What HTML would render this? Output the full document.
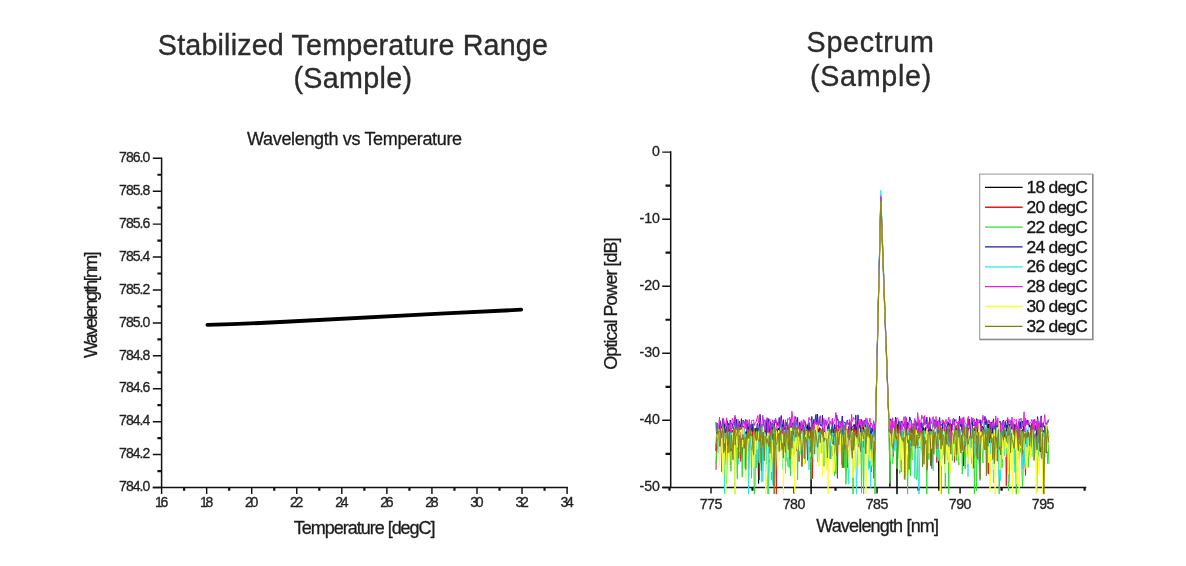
<!DOCTYPE html>
<html lang="en"><head><meta charset="utf-8"><title>Stabilized Temperature Range / Spectrum (Sample)</title>
<style>html,body{margin:0;padding:0;background:#fff}body{width:1186px;height:566px;overflow:hidden}svg{display:block}text{font-family:"Liberation Sans",sans-serif;fill:#222}.ttl{font-size:28.7px;fill:#2c2c2c;stroke:#2c2c2c;stroke-width:.35px}.ax{stroke:#111;stroke-width:1.5;fill:none;stroke-linecap:butt}.tk{font-size:14px;fill:#222;stroke:#222;stroke-width:.3px}.tk2{font-size:14.2px;fill:#222;stroke:#222;stroke-width:.3px}.lb{font-size:18px;fill:#1c1c1c;stroke:#1c1c1c;stroke-width:.3px}.lg{font-size:17.4px;fill:#151515;stroke:#151515;stroke-width:.35px}.s{fill:none;stroke-width:1.0;stroke-linejoin:round}</style></head><body>
<svg width="1186" height="566" viewBox="0 0 1186 566">
<rect width="1186" height="566" fill="#fff"/>
<defs><filter id="bl" x="-5%" y="-5%" width="110%" height="110%"><feGaussianBlur stdDeviation="0.7"/></filter></defs>
<text x="352.9" y="54.8" class="ttl" text-anchor="middle" textLength="390.1" lengthAdjust="spacing">Stabilized Temperature Range</text>
<text x="352.7" y="87.7" class="ttl" text-anchor="middle" textLength="118.6" lengthAdjust="spacing">(Sample)</text>
<text x="870.3" y="51.8" class="ttl" text-anchor="middle" textLength="127.4" lengthAdjust="spacing">Spectrum</text>
<text x="870.6" y="86" class="ttl" text-anchor="middle" textLength="121.2" lengthAdjust="spacing">(Sample)</text>
<path class="ax" d="M161.6 157.5V487.5M152.79999999999998 487.5H567.9"/>
<text x="150.3" y="491.20" class="tk" text-anchor="end" textLength="31.2" lengthAdjust="spacing">784.0</text>
<text x="150.3" y="458.28" class="tk" text-anchor="end" textLength="31.2" lengthAdjust="spacing">784.2</text>
<text x="150.3" y="425.36" class="tk" text-anchor="end" textLength="31.2" lengthAdjust="spacing">784.4</text>
<text x="150.3" y="392.44" class="tk" text-anchor="end" textLength="31.2" lengthAdjust="spacing">784.6</text>
<text x="150.3" y="359.52" class="tk" text-anchor="end" textLength="31.2" lengthAdjust="spacing">784.8</text>
<text x="150.3" y="326.60" class="tk" text-anchor="end" textLength="31.2" lengthAdjust="spacing">785.0</text>
<text x="150.3" y="293.68" class="tk" text-anchor="end" textLength="31.2" lengthAdjust="spacing">785.2</text>
<text x="150.3" y="260.76" class="tk" text-anchor="end" textLength="31.2" lengthAdjust="spacing">785.4</text>
<text x="150.3" y="227.84" class="tk" text-anchor="end" textLength="31.2" lengthAdjust="spacing">785.6</text>
<text x="150.3" y="194.92" class="tk" text-anchor="end" textLength="31.2" lengthAdjust="spacing">785.8</text>
<text x="150.3" y="162.00" class="tk" text-anchor="end" textLength="31.2" lengthAdjust="spacing">786.0</text>
<text x="161.60" y="507.3" class="tk" text-anchor="middle" textLength="13.3" lengthAdjust="spacing">16</text>
<text x="206.66" y="507.3" class="tk" text-anchor="middle" textLength="13.3" lengthAdjust="spacing">18</text>
<text x="251.71" y="507.3" class="tk" text-anchor="middle" textLength="13.3" lengthAdjust="spacing">20</text>
<text x="296.77" y="507.3" class="tk" text-anchor="middle" textLength="13.3" lengthAdjust="spacing">22</text>
<text x="341.82" y="507.3" class="tk" text-anchor="middle" textLength="13.3" lengthAdjust="spacing">24</text>
<text x="386.88" y="507.3" class="tk" text-anchor="middle" textLength="13.3" lengthAdjust="spacing">26</text>
<text x="431.93" y="507.3" class="tk" text-anchor="middle" textLength="13.3" lengthAdjust="spacing">28</text>
<text x="476.99" y="507.3" class="tk" text-anchor="middle" textLength="13.3" lengthAdjust="spacing">30</text>
<text x="522.04" y="507.3" class="tk" text-anchor="middle" textLength="13.3" lengthAdjust="spacing">32</text>
<text x="567.10" y="507.3" class="tk" text-anchor="middle" textLength="13.3" lengthAdjust="spacing">34</text>
<path class="ax" style="stroke-width:1.45" d="M152.79999999999998 487.50H161.6M152.79999999999998 454.58H161.6M152.79999999999998 421.66H161.6M152.79999999999998 388.74H161.6M152.79999999999998 355.82H161.6M152.79999999999998 322.90H161.6M152.79999999999998 289.98H161.6M152.79999999999998 257.06H161.6M152.79999999999998 224.14H161.6M152.79999999999998 191.22H161.6M152.79999999999998 158.30H161.6M161.60 487.5V494.1M206.66 487.5V494.1M251.71 487.5V494.1M296.77 487.5V494.1M341.82 487.5V494.1M386.88 487.5V494.1M431.93 487.5V494.1M476.99 487.5V494.1M522.04 487.5V494.1M567.10 487.5V494.1"/><path class="ax" style="stroke-width:2.2" d="M157.4 471.04H161.6M157.4 438.12H161.6M157.4 405.20H161.6M157.4 372.28H161.6M157.4 339.36H161.6M157.4 306.44H161.6M157.4 273.52H161.6M157.4 240.60H161.6M157.4 207.68H161.6M157.4 174.76H161.6M184.13 487.5V490.7M229.18 487.5V490.7M274.24 487.5V490.7M319.29 487.5V490.7M364.35 487.5V490.7M409.41 487.5V490.7M454.46 487.5V490.7M499.52 487.5V490.7M544.57 487.5V490.7"/>
<text x="354.6" y="145.0" class="lb" text-anchor="middle" textLength="215" lengthAdjust="spacing">Wavelength vs Temperature</text>
<text x="364.7" y="533.5" class="lb" text-anchor="middle" textLength="141.8" lengthAdjust="spacing">Temperature [degC]</text>
<text class="lb" text-anchor="middle" textLength="106.5" lengthAdjust="spacing" transform="translate(96.6 304.8) rotate(-90)">Wavelength[nm]</text>
<path d="M207.4 324.8L232 324.2L260 323L290 321.5L440 313.7L521.2 309.7" fill="none" stroke="#000" stroke-width="3.8" stroke-linecap="round" stroke-linejoin="round"/>
<path class="ax" d="M670.7 151.29999999999998V487.4M662.2 487.4H1086.3"/>
<text x="660.0" y="155.70" class="tk2" text-anchor="end">0</text>
<text x="660.0" y="222.76" class="tk2" text-anchor="end">-10</text>
<text x="660.0" y="289.82" class="tk2" text-anchor="end">-20</text>
<text x="660.0" y="356.88" class="tk2" text-anchor="end">-30</text>
<text x="660.0" y="423.94" class="tk2" text-anchor="end">-40</text>
<text x="660.0" y="491.00" class="tk2" text-anchor="end">-50</text>
<text x="711.00" y="508.6" class="tk2" text-anchor="middle" textLength="22.6" lengthAdjust="spacing">775</text>
<text x="794.02" y="508.6" class="tk2" text-anchor="middle" textLength="22.6" lengthAdjust="spacing">780</text>
<text x="877.05" y="508.6" class="tk2" text-anchor="middle" textLength="22.6" lengthAdjust="spacing">785</text>
<text x="960.08" y="508.6" class="tk2" text-anchor="middle" textLength="22.6" lengthAdjust="spacing">790</text>
<text x="1043.10" y="508.6" class="tk2" text-anchor="middle" textLength="22.6" lengthAdjust="spacing">795</text>
<path class="ax" style="stroke-width:1.45" d="M662.2 152.10H670.7M662.2 219.16H670.7M662.2 286.22H670.7M662.2 353.28H670.7M662.2 420.34H670.7M662.2 487.40H670.7M711.00 487.4V493.59999999999997M794.02 487.4V493.59999999999997M877.05 487.4V493.59999999999997M960.08 487.4V493.59999999999997M1043.10 487.4V493.59999999999997"/><path class="ax" style="stroke-width:2.2" d="M665.5 185.63H670.7M665.5 252.69H670.7M665.5 319.75H670.7M665.5 386.81H670.7M665.5 453.87H670.7M669.49 487.4V490.79999999999995M752.51 487.4V490.79999999999995M835.54 487.4V490.79999999999995M918.56 487.4V490.79999999999995M1001.59 487.4V490.79999999999995M1084.61 487.4V490.79999999999995"/>
<g filter="url(#bl)"><path class="s" stroke="#000000" d="M716.0,451.0 716.7,427.6 717.4,433.5 718.1,432.3 718.8,432.8 719.5,441.4 720.2,432.7 721.0,443.6 721.7,441.0 722.4,433.5 723.1,431.4 723.8,430.8 724.5,435.4 725.2,446.2 725.9,464.9 726.6,426.9 727.3,445.7 728.0,431.3 728.8,452.3 729.5,442.7 730.2,437.7 730.9,436.6 731.6,450.7 732.3,430.1 733.0,446.7 733.7,436.8 734.4,460.7 735.1,445.3 735.9,437.0 736.6,433.0 737.3,448.8 738.0,447.3 738.7,431.5 739.4,446.0 740.1,428.4 740.8,437.8 741.5,427.5 742.2,458.3 743.0,435.0 743.7,438.0 744.4,449.0 745.1,435.4 745.8,434.5 746.5,430.4 747.2,442.0 747.9,435.7 748.6,426.9 749.3,446.7 750.1,430.7 750.8,435.6 751.5,428.4 752.2,431.1 752.9,448.3 753.6,453.3 754.3,444.6 755.0,430.6 755.7,428.2 756.4,428.1 757.2,428.2 757.9,447.4 758.6,483.5 759.3,432.8 760.0,430.5 760.7,433.8 761.4,440.7 762.1,432.9 762.8,427.0 763.5,427.6 764.3,449.2 765.0,433.1 765.7,434.5 766.4,433.9 767.1,430.0 767.8,429.4 768.5,425.7 769.2,427.1 769.9,442.0 770.6,428.8 771.4,429.1 772.1,426.9 772.8,439.6 773.5,428.0 774.2,433.7 774.9,432.3 775.6,431.3 776.3,448.7 777.0,429.0 777.7,433.5 778.5,428.3 779.2,436.6 779.9,440.9 780.6,429.8 781.3,450.5 782.0,437.5 782.7,430.1 783.4,425.4 784.1,449.2 784.8,441.0 785.5,442.1 786.3,434.1 787.0,438.8 787.7,434.7 788.4,428.3 789.1,430.4 789.8,429.8 790.5,459.1 791.2,436.1 791.9,431.2 792.6,431.6 793.4,431.2 794.1,440.9 794.8,437.7 795.5,434.4 796.2,438.7 796.9,427.4 797.6,436.0 798.3,431.2 799.0,437.2 799.7,427.8 800.5,427.0 801.2,428.6 801.9,430.9 802.6,436.5 803.3,435.1 804.0,432.2 804.7,436.7 805.4,451.0 806.1,437.9 806.8,434.6 807.6,424.8 808.3,437.7 809.0,436.6 809.7,429.0 810.4,443.5 811.1,494.1 811.8,428.4 812.5,434.2 813.2,438.8 813.9,437.0 814.7,439.6 815.4,426.5 816.1,431.6 816.8,429.1 817.5,432.9 818.2,429.1 818.9,441.5 819.6,427.7 820.3,430.2 821.0,432.7 821.8,431.3 822.5,430.3 823.2,435.0 823.9,454.9 824.6,428.6 825.3,445.6 826.0,434.2 826.7,436.0 827.4,437.4 828.1,444.6 828.9,444.4 829.6,433.6 830.3,458.7 831.0,442.0 831.7,432.0 832.4,455.5 833.1,436.8 833.8,435.7 834.5,453.7 835.2,435.6 835.9,444.7 836.7,436.3 837.4,440.1 838.1,437.7 838.8,428.3 839.5,433.3 840.2,433.1 840.9,429.4 841.6,432.2 842.3,429.2 843.0,446.0 843.8,432.0 844.5,456.3 845.2,454.8 845.9,436.2 846.6,432.0 847.3,432.5 848.0,426.3 848.7,428.9 849.4,457.3 850.1,433.7 850.9,443.0 851.6,426.7 852.3,430.9 853.0,445.3 853.7,436.0 854.4,424.7 855.1,430.1 855.8,428.5 856.5,439.7 857.2,425.9 858.0,438.3 858.7,447.3 859.4,432.1 860.1,428.6 860.8,445.6 861.5,428.3 862.2,432.9 862.9,447.4 863.6,427.3 864.3,431.5 865.1,434.5 865.8,433.9 866.5,440.4 867.2,443.6 867.9,434.2 868.6,438.3 869.3,461.1 870.0,435.1 870.7,434.8 871.4,438.8 872.2,428.1 872.9,435.3 873.6,443.1 874.3,432.2 875.0,440.1 875.7,417.9 876.4,387.4 877.1,356.8 877.8,326.3 878.5,295.7 879.3,265.2 880.0,234.6 880.7,204.1 880.7,201.3 881.4,218.9 882.1,238.3 882.8,257.7 883.5,277.1 884.2,296.5 884.9,315.8 885.6,335.2 886.4,354.6 887.1,374.0 887.8,393.4 888.5,412.8 889.2,432.2 889.9,486.7 890.6,428.7 891.3,436.0 892.0,432.2 892.7,437.3 893.4,456.4 894.2,437.7 894.9,424.7 895.6,437.5 896.3,442.8 897.0,494.1 897.7,424.6 898.4,439.2 899.1,435.0 899.8,467.9 900.5,426.9 901.3,446.7 902.0,428.3 902.7,438.2 903.4,436.9 904.1,433.2 904.8,431.4 905.5,424.6 906.2,433.3 906.9,427.9 907.6,439.9 908.4,433.8 909.1,431.5 909.8,458.7 910.5,431.2 911.2,428.3 911.9,426.8 912.6,446.2 913.3,431.9 914.0,429.2 914.7,429.7 915.5,434.4 916.2,434.0 916.9,433.3 917.6,448.1 918.3,428.0 919.0,436.4 919.7,429.2 920.4,432.3 921.1,440.8 921.8,449.4 922.6,446.6 923.3,427.5 924.0,445.4 924.7,429.6 925.4,427.4 926.1,445.7 926.8,443.6 927.5,430.3 928.2,434.9 928.9,422.9 929.7,431.4 930.4,440.1 931.1,465.8 931.8,429.4 932.5,440.0 933.2,437.1 933.9,427.5 934.6,438.5 935.3,436.4 936.0,431.3 936.8,444.5 937.5,439.0 938.2,443.6 938.9,490.6 939.6,450.1 940.3,455.5 941.0,458.4 941.7,448.7 942.4,426.5 943.1,436.8 943.9,432.4 944.6,429.9 945.3,443.3 946.0,438.2 946.7,433.1 947.4,444.6 948.1,435.1 948.8,433.4 949.5,429.0 950.2,436.7 950.9,428.3 951.7,432.6 952.4,426.7 953.1,452.8 953.8,437.5 954.5,435.2 955.2,437.9 955.9,430.1 956.6,428.1 957.3,432.3 958.0,436.5 958.8,436.9 959.5,430.4 960.2,433.0 960.9,432.9 961.6,430.0 962.3,423.5 963.0,449.7 963.7,465.9 964.4,434.2 965.1,439.8 965.9,426.7 966.6,435.9 967.3,449.8 968.0,428.0 968.7,429.0 969.4,435.0 970.1,440.2 970.8,428.6 971.5,430.7 972.2,422.3 973.0,468.2 973.7,428.2 974.4,435.6 975.1,427.5 975.8,454.9 976.5,438.2 977.2,430.0 977.9,439.6 978.6,440.1 979.3,433.4 980.1,435.4 980.8,444.6 981.5,429.6 982.2,426.3 982.9,426.9 983.6,429.4 984.3,431.2 985.0,429.4 985.7,428.1 986.4,440.8 987.2,440.2 987.9,432.0 988.6,424.0 989.3,456.8 990.0,440.7 990.7,429.2 991.4,435.1 992.1,428.0 992.8,433.3 993.5,452.8 994.3,439.1 995.0,435.3 995.7,424.9 996.4,429.6 997.1,426.6 997.8,424.6 998.5,434.9 999.2,429.8 999.9,428.2 1000.6,444.9 1001.4,436.3 1002.1,433.8 1002.8,428.2 1003.5,434.8 1004.2,441.3 1004.9,429.8 1005.6,445.9 1006.3,434.2 1007.0,424.9 1007.7,430.9 1008.4,445.3 1009.2,436.2 1009.9,428.0 1010.6,442.8 1011.3,420.5 1012.0,429.3 1012.7,443.9 1013.4,435.9 1014.1,443.8 1014.8,433.2 1015.5,432.9 1016.3,424.4 1017.0,437.0 1017.7,434.5 1018.4,429.1 1019.1,459.4 1019.8,431.3 1020.5,434.3 1021.2,437.8 1021.9,428.9 1022.6,432.1 1023.4,433.1 1024.1,438.1 1024.8,460.7 1025.5,453.9 1026.2,433.6 1026.9,433.9 1027.6,432.0 1028.3,432.4 1029.0,435.2 1029.7,424.6 1030.5,430.6 1031.2,438.5 1031.9,446.9 1032.6,426.5 1033.3,437.5 1034.0,431.8 1034.7,440.0 1035.4,448.2 1036.1,438.6 1036.8,430.7 1037.6,430.9 1038.3,436.1 1039.0,443.1 1039.7,428.8 1040.4,451.8 1041.1,449.9 1041.8,435.4 1042.5,453.2 1043.2,430.4 1043.9,443.7 1044.7,431.4 1045.4,425.1 1046.1,442.5 1046.8,453.1 1047.5,430.9 1048.2,438.7 1048.9,436.6"/><path class="s" stroke="#e8181c" d="M716.0,469.9 716.7,436.8 717.4,432.8 718.1,438.5 718.8,439.1 719.5,435.2 720.2,427.6 721.0,436.3 721.7,471.6 722.4,430.8 723.1,440.4 723.8,446.0 724.5,426.8 725.2,437.5 725.9,428.4 726.6,436.1 727.3,439.6 728.0,428.8 728.8,434.5 729.5,435.8 730.2,465.0 730.9,430.3 731.6,444.5 732.3,430.0 733.0,432.1 733.7,434.8 734.4,437.2 735.1,429.5 735.9,429.6 736.6,429.4 737.3,433.2 738.0,425.8 738.7,437.4 739.4,433.1 740.1,424.7 740.8,461.5 741.5,429.2 742.2,444.9 743.0,428.4 743.7,426.2 744.4,445.1 745.1,432.1 745.8,432.6 746.5,449.9 747.2,435.1 747.9,442.8 748.6,429.8 749.3,431.4 750.1,441.0 750.8,434.7 751.5,450.4 752.2,431.3 752.9,446.1 753.6,447.3 754.3,439.3 755.0,439.3 755.7,433.4 756.4,442.9 757.2,448.2 757.9,434.0 758.6,433.4 759.3,480.0 760.0,429.0 760.7,437.7 761.4,430.7 762.1,432.1 762.8,431.9 763.5,450.1 764.3,427.3 765.0,437.2 765.7,437.6 766.4,430.2 767.1,428.7 767.8,440.5 768.5,434.3 769.2,427.5 769.9,435.6 770.6,431.0 771.4,429.2 772.1,468.8 772.8,454.1 773.5,485.5 774.2,423.6 774.9,429.7 775.6,437.1 776.3,494.1 777.0,447.0 777.7,441.0 778.5,443.9 779.2,438.1 779.9,437.3 780.6,439.4 781.3,430.2 782.0,442.3 782.7,429.4 783.4,425.5 784.1,429.1 784.8,427.6 785.5,452.1 786.3,428.1 787.0,430.6 787.7,436.2 788.4,432.5 789.1,425.7 789.8,431.9 790.5,435.1 791.2,433.0 791.9,432.3 792.6,427.4 793.4,436.2 794.1,455.3 794.8,440.8 795.5,428.6 796.2,443.0 796.9,450.8 797.6,431.6 798.3,436.9 799.0,461.6 799.7,434.5 800.5,433.0 801.2,429.6 801.9,466.7 802.6,450.8 803.3,429.4 804.0,441.6 804.7,454.9 805.4,463.2 806.1,430.1 806.8,431.1 807.6,460.4 808.3,433.6 809.0,426.7 809.7,442.4 810.4,427.0 811.1,462.8 811.8,438.4 812.5,478.7 813.2,428.1 813.9,441.8 814.7,432.5 815.4,431.3 816.1,430.3 816.8,428.1 817.5,426.4 818.2,428.9 818.9,429.6 819.6,436.4 820.3,428.1 821.0,431.7 821.8,431.2 822.5,428.2 823.2,437.4 823.9,452.1 824.6,433.8 825.3,433.3 826.0,437.4 826.7,447.5 827.4,427.7 828.1,442.2 828.9,425.4 829.6,443.6 830.3,432.2 831.0,448.5 831.7,432.2 832.4,445.9 833.1,428.7 833.8,440.8 834.5,434.0 835.2,428.9 835.9,431.2 836.7,425.8 837.4,478.4 838.1,435.5 838.8,426.1 839.5,431.2 840.2,429.2 840.9,438.7 841.6,440.5 842.3,436.4 843.0,433.9 843.8,467.7 844.5,437.8 845.2,439.0 845.9,434.8 846.6,432.8 847.3,467.7 848.0,434.9 848.7,455.5 849.4,455.3 850.1,429.3 850.9,431.5 851.6,434.7 852.3,432.0 853.0,446.2 853.7,427.8 854.4,436.5 855.1,424.0 855.8,426.5 856.5,434.6 857.2,435.4 858.0,425.7 858.7,438.1 859.4,448.3 860.1,449.5 860.8,431.9 861.5,447.8 862.2,421.7 862.9,446.4 863.6,432.4 864.3,435.8 865.1,448.6 865.8,430.6 866.5,434.5 867.2,441.3 867.9,443.7 868.6,427.3 869.3,435.4 870.0,435.1 870.7,445.8 871.4,472.0 872.2,428.2 872.9,426.6 873.6,450.2 874.3,437.4 875.0,432.2 875.7,418.4 876.4,387.3 877.1,356.2 877.8,325.1 878.5,294.0 879.3,262.9 880.0,231.8 880.7,200.7 880.8,197.0 881.4,214.4 882.1,234.1 882.8,253.8 883.5,273.6 884.2,293.3 884.9,313.1 885.6,332.8 886.4,352.6 887.1,372.3 887.8,392.0 888.5,411.8 889.2,431.5 889.9,425.6 890.6,439.4 891.3,433.7 892.0,431.8 892.7,428.2 893.4,443.8 894.2,434.3 894.9,438.5 895.6,444.5 896.3,435.9 897.0,443.6 897.7,426.5 898.4,430.7 899.1,422.8 899.8,441.1 900.5,427.4 901.3,425.1 902.0,429.5 902.7,439.0 903.4,440.3 904.1,429.1 904.8,430.9 905.5,425.1 906.2,431.4 906.9,428.3 907.6,425.7 908.4,433.0 909.1,432.7 909.8,429.9 910.5,428.1 911.2,441.8 911.9,430.5 912.6,435.4 913.3,439.2 914.0,427.9 914.7,430.8 915.5,433.7 916.2,430.1 916.9,434.1 917.6,430.3 918.3,431.8 919.0,435.3 919.7,447.8 920.4,424.7 921.1,428.6 921.8,434.8 922.6,432.3 923.3,430.6 924.0,455.2 924.7,440.3 925.4,438.6 926.1,432.7 926.8,433.4 927.5,434.9 928.2,432.6 928.9,426.9 929.7,426.8 930.4,430.3 931.1,434.3 931.8,449.0 932.5,434.9 933.2,444.7 933.9,433.9 934.6,433.7 935.3,430.1 936.0,442.3 936.8,462.5 937.5,442.3 938.2,449.5 938.9,433.4 939.6,435.1 940.3,427.3 941.0,437.9 941.7,431.9 942.4,444.3 943.1,435.8 943.9,427.0 944.6,422.7 945.3,439.4 946.0,442.1 946.7,434.1 947.4,448.2 948.1,459.9 948.8,430.0 949.5,448.5 950.2,424.7 950.9,440.8 951.7,428.4 952.4,431.1 953.1,435.1 953.8,430.1 954.5,462.4 955.2,441.5 955.9,426.6 956.6,425.5 957.3,433.3 958.0,434.1 958.8,422.5 959.5,449.6 960.2,433.4 960.9,443.5 961.6,428.7 962.3,438.1 963.0,429.0 963.7,444.0 964.4,439.2 965.1,433.5 965.9,434.3 966.6,436.0 967.3,434.5 968.0,436.2 968.7,432.9 969.4,432.3 970.1,440.0 970.8,438.3 971.5,463.5 972.2,451.8 973.0,434.9 973.7,435.9 974.4,457.6 975.1,438.3 975.8,440.7 976.5,430.4 977.2,425.5 977.9,459.7 978.6,427.7 979.3,426.7 980.1,440.2 980.8,433.8 981.5,431.6 982.2,439.0 982.9,440.1 983.6,432.8 984.3,448.5 985.0,429.9 985.7,431.7 986.4,433.3 987.2,439.3 987.9,453.7 988.6,474.2 989.3,425.2 990.0,423.8 990.7,433.0 991.4,437.5 992.1,431.8 992.8,447.9 993.5,452.3 994.3,445.7 995.0,437.4 995.7,430.4 996.4,452.4 997.1,461.3 997.8,438.7 998.5,430.1 999.2,432.3 999.9,428.6 1000.6,441.3 1001.4,432.1 1002.1,436.4 1002.8,428.1 1003.5,426.8 1004.2,445.6 1004.9,438.9 1005.6,432.9 1006.3,485.8 1007.0,434.7 1007.7,431.1 1008.4,469.8 1009.2,426.1 1009.9,437.2 1010.6,444.9 1011.3,432.1 1012.0,430.9 1012.7,429.6 1013.4,425.1 1014.1,438.0 1014.8,424.7 1015.5,434.9 1016.3,431.8 1017.0,441.6 1017.7,432.8 1018.4,438.9 1019.1,427.6 1019.8,434.0 1020.5,434.1 1021.2,452.1 1021.9,440.0 1022.6,457.3 1023.4,436.8 1024.1,426.5 1024.8,458.8 1025.5,475.3 1026.2,456.6 1026.9,442.0 1027.6,432.2 1028.3,440.3 1029.0,451.7 1029.7,427.4 1030.5,436.5 1031.2,425.5 1031.9,428.7 1032.6,433.3 1033.3,428.6 1034.0,427.9 1034.7,428.7 1035.4,441.7 1036.1,443.0 1036.8,445.3 1037.6,426.5 1038.3,436.0 1039.0,430.4 1039.7,423.2 1040.4,430.9 1041.1,427.1 1041.8,432.3 1042.5,429.1 1043.2,445.4 1043.9,431.3 1044.7,437.8 1045.4,441.3 1046.1,432.1 1046.8,426.2 1047.5,430.7 1048.2,434.6 1048.9,432.9"/><path class="s" stroke="#2fe02f" d="M716.0,464.5 716.7,453.9 717.4,449.6 718.1,435.3 718.8,429.7 719.5,431.4 720.2,444.2 721.0,441.5 721.7,452.9 722.4,437.6 723.1,440.0 723.8,448.7 724.5,455.4 725.2,438.2 725.9,452.4 726.6,483.9 727.3,449.3 728.0,447.6 728.8,442.6 729.5,432.6 730.2,433.3 730.9,471.2 731.6,433.5 732.3,436.9 733.0,438.0 733.7,434.8 734.4,435.2 735.1,494.1 735.9,428.6 736.6,453.1 737.3,478.6 738.0,428.4 738.7,436.1 739.4,436.1 740.1,443.3 740.8,427.9 741.5,441.5 742.2,477.2 743.0,439.2 743.7,438.7 744.4,449.5 745.1,467.8 745.8,433.8 746.5,439.9 747.2,440.9 747.9,428.8 748.6,476.4 749.3,457.2 750.1,434.8 750.8,442.2 751.5,478.3 752.2,437.9 752.9,446.3 753.6,444.4 754.3,494.1 755.0,484.7 755.7,446.9 756.4,467.8 757.2,440.0 757.9,434.9 758.6,429.9 759.3,438.0 760.0,436.1 760.7,463.1 761.4,435.7 762.1,430.3 762.8,465.0 763.5,454.7 764.3,433.6 765.0,443.6 765.7,434.3 766.4,463.7 767.1,431.9 767.8,423.7 768.5,494.1 769.2,463.2 769.9,458.8 770.6,442.6 771.4,479.8 772.1,432.2 772.8,429.9 773.5,434.7 774.2,432.1 774.9,434.5 775.6,445.4 776.3,445.8 777.0,440.3 777.7,431.7 778.5,449.4 779.2,436.8 779.9,435.2 780.6,445.2 781.3,440.7 782.0,441.1 782.7,435.4 783.4,428.4 784.1,432.1 784.8,430.6 785.5,436.5 786.3,427.0 787.0,461.4 787.7,442.1 788.4,442.2 789.1,467.6 789.8,450.4 790.5,475.9 791.2,436.9 791.9,432.6 792.6,428.4 793.4,439.8 794.1,447.4 794.8,450.9 795.5,452.2 796.2,439.7 796.9,434.5 797.6,479.7 798.3,435.9 799.0,433.2 799.7,455.6 800.5,447.6 801.2,445.7 801.9,439.0 802.6,433.9 803.3,440.2 804.0,436.7 804.7,447.2 805.4,434.3 806.1,436.4 806.8,435.0 807.6,440.7 808.3,438.6 809.0,429.1 809.7,446.3 810.4,454.3 811.1,479.5 811.8,441.7 812.5,446.6 813.2,429.0 813.9,433.2 814.7,446.7 815.4,430.8 816.1,434.7 816.8,433.1 817.5,438.8 818.2,435.6 818.9,460.3 819.6,442.0 820.3,439.8 821.0,433.8 821.8,453.3 822.5,445.7 823.2,437.0 823.9,466.4 824.6,452.2 825.3,433.7 826.0,440.2 826.7,436.6 827.4,467.6 828.1,447.2 828.9,430.0 829.6,433.3 830.3,429.0 831.0,436.0 831.7,427.2 832.4,436.0 833.1,454.9 833.8,453.8 834.5,475.7 835.2,436.8 835.9,473.8 836.7,445.5 837.4,436.2 838.1,443.2 838.8,435.8 839.5,442.3 840.2,427.6 840.9,431.4 841.6,464.5 842.3,440.7 843.0,450.5 843.8,439.3 844.5,467.8 845.2,440.0 845.9,484.4 846.6,467.4 847.3,431.0 848.0,435.9 848.7,447.8 849.4,439.1 850.1,442.3 850.9,436.2 851.6,441.1 852.3,433.0 853.0,494.1 853.7,447.3 854.4,441.3 855.1,446.2 855.8,445.3 856.5,441.7 857.2,439.5 858.0,439.7 858.7,443.6 859.4,436.6 860.1,431.5 860.8,440.6 861.5,493.2 862.2,437.8 862.9,437.7 863.6,494.1 864.3,441.9 865.1,441.3 865.8,426.4 866.5,426.9 867.2,432.7 867.9,453.7 868.6,457.8 869.3,468.4 870.0,438.7 870.7,467.4 871.4,436.1 872.2,466.4 872.9,435.2 873.6,436.6 874.3,438.6 875.0,494.1 875.7,419.3 876.4,388.1 877.1,357.0 877.8,325.8 878.5,294.7 879.3,263.5 880.0,232.4 880.7,201.3 880.8,196.7 881.4,213.5 882.1,233.3 882.8,253.1 883.5,272.8 884.2,292.6 884.9,312.4 885.6,332.1 886.4,351.9 887.1,371.7 887.8,391.4 888.5,411.2 889.2,431.0 889.9,483.3 890.6,444.8 891.3,449.7 892.0,458.2 892.7,463.6 893.4,452.9 894.2,431.4 894.9,428.7 895.6,444.1 896.3,439.6 897.0,468.7 897.7,433.5 898.4,441.0 899.1,447.9 899.8,473.5 900.5,441.9 901.3,472.0 902.0,437.1 902.7,451.1 903.4,439.5 904.1,435.8 904.8,440.3 905.5,443.7 906.2,432.2 906.9,438.4 907.6,494.1 908.4,448.7 909.1,433.2 909.8,438.2 910.5,476.1 911.2,457.8 911.9,433.0 912.6,459.9 913.3,436.6 914.0,445.3 914.7,434.2 915.5,438.0 916.2,479.1 916.9,479.4 917.6,466.6 918.3,441.4 919.0,432.8 919.7,423.6 920.4,438.6 921.1,438.0 921.8,439.8 922.6,443.1 923.3,451.4 924.0,445.7 924.7,431.0 925.4,439.1 926.1,430.7 926.8,494.1 927.5,431.3 928.2,442.2 928.9,459.5 929.7,448.0 930.4,430.7 931.1,432.3 931.8,443.6 932.5,458.0 933.2,430.7 933.9,423.3 934.6,426.6 935.3,441.2 936.0,436.7 936.8,457.0 937.5,436.1 938.2,443.4 938.9,441.7 939.6,429.0 940.3,432.7 941.0,494.1 941.7,450.0 942.4,444.4 943.1,442.9 943.9,440.9 944.6,431.9 945.3,487.4 946.0,444.5 946.7,436.4 947.4,428.8 948.1,442.2 948.8,494.1 949.5,432.0 950.2,442.8 950.9,430.4 951.7,437.0 952.4,460.7 953.1,432.6 953.8,428.8 954.5,447.8 955.2,427.3 955.9,447.5 956.6,461.0 957.3,445.7 958.0,444.8 958.8,465.0 959.5,444.3 960.2,430.0 960.9,429.4 961.6,432.5 962.3,474.1 963.0,440.4 963.7,451.1 964.4,452.4 965.1,468.8 965.9,441.4 966.6,446.7 967.3,457.6 968.0,440.0 968.7,442.0 969.4,436.7 970.1,437.8 970.8,439.7 971.5,455.0 972.2,433.1 973.0,439.2 973.7,427.9 974.4,494.1 975.1,445.9 975.8,426.4 976.5,490.7 977.2,443.8 977.9,437.4 978.6,434.0 979.3,464.2 980.1,435.0 980.8,441.1 981.5,445.4 982.2,449.9 982.9,463.0 983.6,434.6 984.3,442.5 985.0,449.9 985.7,428.9 986.4,439.4 987.2,473.6 987.9,442.4 988.6,444.9 989.3,449.3 990.0,453.1 990.7,461.5 991.4,438.0 992.1,440.1 992.8,434.0 993.5,430.5 994.3,437.3 995.0,430.3 995.7,431.6 996.4,444.2 997.1,428.3 997.8,449.5 998.5,439.2 999.2,494.1 999.9,462.5 1000.6,433.7 1001.4,435.2 1002.1,467.8 1002.8,432.9 1003.5,450.0 1004.2,447.8 1004.9,445.5 1005.6,430.2 1006.3,453.4 1007.0,437.3 1007.7,427.7 1008.4,490.9 1009.2,481.4 1009.9,451.4 1010.6,432.7 1011.3,437.2 1012.0,448.4 1012.7,452.1 1013.4,430.5 1014.1,463.6 1014.8,437.7 1015.5,458.0 1016.3,494.1 1017.0,440.3 1017.7,427.5 1018.4,428.2 1019.1,440.3 1019.8,439.9 1020.5,452.2 1021.2,433.6 1021.9,471.9 1022.6,487.0 1023.4,465.5 1024.1,428.4 1024.8,443.2 1025.5,434.9 1026.2,441.0 1026.9,443.5 1027.6,437.1 1028.3,467.4 1029.0,441.5 1029.7,455.2 1030.5,434.4 1031.2,437.6 1031.9,456.9 1032.6,433.6 1033.3,445.9 1034.0,441.1 1034.7,437.4 1035.4,440.8 1036.1,442.0 1036.8,452.9 1037.6,440.5 1038.3,451.4 1039.0,461.1 1039.7,446.0 1040.4,442.1 1041.1,447.2 1041.8,432.3 1042.5,440.4 1043.2,441.7 1043.9,480.0 1044.7,430.1 1045.4,457.3 1046.1,442.7 1046.8,427.8 1047.5,463.5 1048.2,443.7 1048.9,464.1"/><path class="s" stroke="#1c1ca8" d="M716.0,422.1 716.7,437.3 717.4,423.3 718.1,427.3 718.8,432.7 719.5,427.3 720.2,420.8 721.0,427.5 721.7,428.3 722.4,421.6 723.1,418.3 723.8,438.2 724.5,423.6 725.2,431.5 725.9,436.0 726.6,438.0 727.3,420.8 728.0,428.7 728.8,423.2 729.5,438.9 730.2,420.0 730.9,422.3 731.6,424.2 732.3,423.6 733.0,429.0 733.7,428.9 734.4,423.7 735.1,416.9 735.9,428.6 736.6,419.3 737.3,429.0 738.0,426.7 738.7,424.2 739.4,421.1 740.1,427.1 740.8,424.9 741.5,418.6 742.2,445.3 743.0,420.0 743.7,421.2 744.4,423.7 745.1,422.2 745.8,419.4 746.5,423.7 747.2,429.0 747.9,423.7 748.6,451.0 749.3,423.4 750.1,424.4 750.8,429.6 751.5,424.1 752.2,431.5 752.9,423.7 753.6,432.4 754.3,439.4 755.0,438.6 755.7,429.6 756.4,433.8 757.2,423.6 757.9,423.3 758.6,435.2 759.3,430.9 760.0,414.3 760.7,423.2 761.4,452.4 762.1,424.4 762.8,428.6 763.5,421.7 764.3,419.9 765.0,420.4 765.7,435.4 766.4,419.6 767.1,435.7 767.8,418.1 768.5,420.0 769.2,431.8 769.9,430.7 770.6,421.6 771.4,427.9 772.1,423.0 772.8,423.8 773.5,432.7 774.2,425.7 774.9,419.8 775.6,423.1 776.3,421.4 777.0,421.9 777.7,425.5 778.5,425.3 779.2,417.5 779.9,430.5 780.6,418.5 781.3,415.5 782.0,423.3 782.7,426.9 783.4,419.7 784.1,430.0 784.8,436.0 785.5,421.6 786.3,426.1 787.0,422.3 787.7,430.2 788.4,426.6 789.1,425.3 789.8,424.5 790.5,419.3 791.2,425.8 791.9,427.5 792.6,422.8 793.4,424.4 794.1,428.1 794.8,420.7 795.5,416.8 796.2,419.6 796.9,425.6 797.6,417.3 798.3,430.3 799.0,429.3 799.7,422.1 800.5,426.4 801.2,423.0 801.9,422.3 802.6,430.1 803.3,424.7 804.0,427.6 804.7,434.2 805.4,421.9 806.1,426.1 806.8,428.5 807.6,434.6 808.3,431.7 809.0,422.4 809.7,430.5 810.4,431.1 811.1,427.9 811.8,416.4 812.5,427.5 813.2,424.0 813.9,419.3 814.7,428.9 815.4,416.9 816.1,414.3 816.8,430.0 817.5,414.1 818.2,423.3 818.9,424.9 819.6,418.6 820.3,423.6 821.0,426.1 821.8,426.0 822.5,415.1 823.2,439.3 823.9,432.1 824.6,425.8 825.3,420.0 826.0,424.2 826.7,423.8 827.4,426.8 828.1,430.4 828.9,423.5 829.6,447.7 830.3,441.2 831.0,447.4 831.7,432.2 832.4,419.2 833.1,430.7 833.8,434.8 834.5,424.5 835.2,437.2 835.9,426.3 836.7,415.0 837.4,420.3 838.1,419.5 838.8,430.2 839.5,426.3 840.2,427.5 840.9,421.7 841.6,422.7 842.3,416.0 843.0,434.2 843.8,426.6 844.5,422.3 845.2,422.1 845.9,430.3 846.6,427.2 847.3,420.2 848.0,424.0 848.7,424.4 849.4,422.6 850.1,429.9 850.9,422.3 851.6,426.3 852.3,426.6 853.0,427.1 853.7,424.7 854.4,426.3 855.1,428.7 855.8,415.2 856.5,429.9 857.2,428.0 858.0,414.8 858.7,424.0 859.4,424.1 860.1,435.1 860.8,424.6 861.5,419.5 862.2,422.7 862.9,425.8 863.6,422.2 864.3,420.2 865.1,427.2 865.8,424.5 866.5,423.2 867.2,426.6 867.9,434.5 868.6,429.6 869.3,424.9 870.0,425.2 870.7,434.8 871.4,436.7 872.2,427.3 872.9,433.4 873.6,461.0 874.3,426.2 875.0,423.4 875.7,420.1 876.4,388.8 877.1,357.5 877.8,326.2 878.5,294.9 879.3,263.6 880.0,232.3 880.7,201.0 880.8,195.5 881.4,211.9 882.1,231.7 882.8,251.6 883.5,271.5 884.2,291.3 884.9,311.2 885.6,331.1 886.4,350.9 887.1,370.8 887.8,390.7 888.5,410.5 889.2,430.4 889.9,421.2 890.6,418.8 891.3,421.5 892.0,429.3 892.7,421.8 893.4,440.6 894.2,428.9 894.9,431.5 895.6,417.0 896.3,419.6 897.0,427.9 897.7,428.7 898.4,420.8 899.1,426.3 899.8,421.5 900.5,429.3 901.3,421.1 902.0,422.6 902.7,421.8 903.4,425.2 904.1,426.8 904.8,422.0 905.5,436.5 906.2,417.8 906.9,441.9 907.6,422.3 908.4,424.9 909.1,422.3 909.8,416.9 910.5,420.3 911.2,420.2 911.9,430.4 912.6,430.2 913.3,431.6 914.0,423.8 914.7,425.3 915.5,420.6 916.2,434.3 916.9,421.9 917.6,425.7 918.3,423.2 919.0,424.3 919.7,430.0 920.4,423.1 921.1,427.7 921.8,422.3 922.6,431.1 923.3,423.1 924.0,424.3 924.7,419.1 925.4,423.1 926.1,424.1 926.8,417.1 927.5,427.6 928.2,425.3 928.9,431.2 929.7,417.4 930.4,431.4 931.1,436.3 931.8,430.4 932.5,433.7 933.2,421.2 933.9,422.0 934.6,419.7 935.3,429.2 936.0,420.0 936.8,426.7 937.5,421.3 938.2,434.9 938.9,427.4 939.6,417.5 940.3,423.9 941.0,425.5 941.7,424.3 942.4,426.3 943.1,420.5 943.9,424.4 944.6,425.6 945.3,425.2 946.0,426.0 946.7,433.7 947.4,421.7 948.1,426.4 948.8,422.0 949.5,426.6 950.2,423.2 950.9,431.8 951.7,423.9 952.4,426.7 953.1,418.8 953.8,418.5 954.5,419.4 955.2,428.9 955.9,435.0 956.6,430.8 957.3,434.4 958.0,432.3 958.8,427.1 959.5,416.0 960.2,423.3 960.9,426.8 961.6,420.7 962.3,428.4 963.0,428.0 963.7,421.0 964.4,430.5 965.1,430.6 965.9,426.5 966.6,429.4 967.3,437.2 968.0,418.5 968.7,425.4 969.4,419.0 970.1,435.6 970.8,424.9 971.5,424.6 972.2,418.8 973.0,424.2 973.7,425.8 974.4,425.7 975.1,422.0 975.8,432.3 976.5,418.7 977.2,420.5 977.9,433.0 978.6,426.1 979.3,425.3 980.1,419.6 980.8,426.0 981.5,424.4 982.2,432.8 982.9,429.3 983.6,434.8 984.3,421.1 985.0,416.4 985.7,424.7 986.4,418.9 987.2,428.0 987.9,423.1 988.6,420.3 989.3,421.0 990.0,423.3 990.7,431.5 991.4,422.2 992.1,424.3 992.8,441.5 993.5,418.8 994.3,431.0 995.0,425.5 995.7,422.0 996.4,452.2 997.1,420.9 997.8,425.0 998.5,428.0 999.2,425.9 999.9,421.0 1000.6,422.3 1001.4,447.9 1002.1,427.9 1002.8,421.4 1003.5,420.0 1004.2,424.8 1004.9,427.7 1005.6,420.9 1006.3,430.8 1007.0,426.5 1007.7,419.0 1008.4,423.6 1009.2,426.0 1009.9,423.7 1010.6,424.4 1011.3,422.8 1012.0,421.7 1012.7,432.7 1013.4,424.0 1014.1,424.1 1014.8,427.2 1015.5,438.7 1016.3,422.9 1017.0,449.6 1017.7,428.5 1018.4,422.7 1019.1,421.2 1019.8,427.8 1020.5,421.7 1021.2,439.7 1021.9,425.1 1022.6,421.0 1023.4,425.8 1024.1,434.0 1024.8,421.4 1025.5,425.6 1026.2,420.6 1026.9,424.0 1027.6,419.9 1028.3,424.2 1029.0,425.7 1029.7,433.7 1030.5,427.5 1031.2,429.8 1031.9,423.0 1032.6,426.1 1033.3,420.2 1034.0,419.9 1034.7,423.9 1035.4,426.0 1036.1,435.9 1036.8,424.4 1037.6,416.6 1038.3,425.8 1039.0,436.8 1039.7,426.5 1040.4,428.4 1041.1,415.9 1041.8,429.3 1042.5,424.1 1043.2,422.7 1043.9,427.2 1044.7,425.8 1045.4,442.7 1046.1,432.0 1046.8,422.7 1047.5,421.6 1048.2,421.9 1048.9,421.7"/><path class="s" stroke="#2ee6e6" d="M716.0,430.7 716.7,431.8 717.4,426.3 718.1,436.8 718.8,453.2 719.5,432.1 720.2,434.7 721.0,431.3 721.7,446.9 722.4,434.0 723.1,432.2 723.8,428.5 724.5,494.1 725.2,434.5 725.9,432.9 726.6,436.9 727.3,431.7 728.0,442.1 728.8,431.8 729.5,449.4 730.2,449.0 730.9,432.7 731.6,440.7 732.3,432.0 733.0,438.6 733.7,442.4 734.4,431.4 735.1,429.2 735.9,429.8 736.6,443.2 737.3,443.9 738.0,436.5 738.7,464.4 739.4,452.0 740.1,454.2 740.8,432.7 741.5,443.4 742.2,439.4 743.0,439.3 743.7,428.5 744.4,429.1 745.1,464.9 745.8,434.5 746.5,454.4 747.2,439.2 747.9,444.8 748.6,494.1 749.3,431.5 750.1,443.7 750.8,446.9 751.5,439.4 752.2,437.1 752.9,446.7 753.6,437.1 754.3,434.4 755.0,446.3 755.7,465.8 756.4,440.1 757.2,447.2 757.9,460.8 758.6,431.6 759.3,463.1 760.0,443.8 760.7,431.8 761.4,481.7 762.1,425.3 762.8,481.7 763.5,460.4 764.3,449.9 765.0,432.2 765.7,471.9 766.4,448.9 767.1,449.6 767.8,493.9 768.5,439.8 769.2,434.6 769.9,432.8 770.6,442.8 771.4,432.4 772.1,455.8 772.8,485.1 773.5,431.5 774.2,426.7 774.9,465.5 775.6,469.4 776.3,440.2 777.0,439.6 777.7,448.9 778.5,443.1 779.2,440.1 779.9,445.7 780.6,427.6 781.3,442.4 782.0,438.0 782.7,469.6 783.4,430.8 784.1,439.2 784.8,429.8 785.5,473.6 786.3,432.9 787.0,429.7 787.7,466.2 788.4,433.2 789.1,430.0 789.8,429.8 790.5,430.2 791.2,432.7 791.9,442.0 792.6,450.1 793.4,435.7 794.1,446.4 794.8,434.6 795.5,419.2 796.2,432.3 796.9,424.8 797.6,426.0 798.3,432.1 799.0,436.6 799.7,430.3 800.5,429.8 801.2,453.6 801.9,431.4 802.6,447.8 803.3,458.0 804.0,442.8 804.7,435.9 805.4,462.8 806.1,433.4 806.8,435.8 807.6,438.7 808.3,438.3 809.0,469.9 809.7,442.2 810.4,440.1 811.1,449.5 811.8,446.4 812.5,457.3 813.2,441.1 813.9,433.4 814.7,436.4 815.4,430.9 816.1,437.3 816.8,441.6 817.5,461.7 818.2,432.0 818.9,438.3 819.6,447.7 820.3,431.2 821.0,433.7 821.8,438.3 822.5,438.1 823.2,455.8 823.9,453.2 824.6,437.3 825.3,458.1 826.0,439.3 826.7,446.3 827.4,434.2 828.1,428.9 828.9,457.2 829.6,437.7 830.3,431.1 831.0,458.7 831.7,434.4 832.4,432.9 833.1,440.5 833.8,433.2 834.5,439.8 835.2,448.2 835.9,432.5 836.7,434.4 837.4,431.4 838.1,434.6 838.8,443.4 839.5,428.6 840.2,447.5 840.9,436.5 841.6,424.7 842.3,439.8 843.0,441.6 843.8,428.8 844.5,423.0 845.2,437.7 845.9,439.1 846.6,432.7 847.3,437.7 848.0,447.0 848.7,484.0 849.4,459.4 850.1,431.4 850.9,435.8 851.6,431.3 852.3,445.6 853.0,440.9 853.7,432.0 854.4,440.2 855.1,452.4 855.8,451.6 856.5,494.1 857.2,469.4 858.0,433.3 858.7,430.5 859.4,439.1 860.1,435.5 860.8,437.7 861.5,436.0 862.2,453.1 862.9,429.5 863.6,437.0 864.3,431.7 865.1,446.4 865.8,444.2 866.5,432.3 867.2,422.9 867.9,428.7 868.6,469.8 869.3,431.6 870.0,436.4 870.7,487.6 871.4,433.9 872.2,450.2 872.9,431.7 873.6,447.8 874.3,437.8 875.0,437.7 875.7,420.6 876.4,388.6 877.1,356.7 877.8,324.7 878.5,292.7 879.3,260.8 880.0,228.8 880.7,196.8 880.8,190.3 881.4,206.5 882.1,226.8 882.8,247.1 883.5,267.4 884.2,287.6 884.9,307.9 885.6,328.2 886.4,348.5 887.1,368.8 887.8,389.1 888.5,409.4 889.2,429.7 889.9,437.3 890.6,439.1 891.3,455.2 892.0,443.7 892.7,432.8 893.4,443.5 894.2,429.6 894.9,450.8 895.6,438.3 896.3,445.8 897.0,448.0 897.7,433.9 898.4,446.7 899.1,441.2 899.8,429.9 900.5,455.3 901.3,449.7 902.0,426.8 902.7,444.4 903.4,441.6 904.1,433.7 904.8,477.1 905.5,431.2 906.2,438.6 906.9,447.4 907.6,429.4 908.4,433.4 909.1,432.5 909.8,443.6 910.5,434.9 911.2,448.1 911.9,438.0 912.6,434.0 913.3,435.1 914.0,438.8 914.7,478.2 915.5,433.1 916.2,431.2 916.9,436.7 917.6,433.3 918.3,479.7 919.0,494.1 919.7,457.7 920.4,439.9 921.1,437.1 921.8,449.0 922.6,444.3 923.3,431.9 924.0,430.2 924.7,445.4 925.4,443.1 926.1,437.2 926.8,458.6 927.5,436.6 928.2,445.4 928.9,443.6 929.7,432.6 930.4,433.2 931.1,431.1 931.8,435.0 932.5,461.1 933.2,470.7 933.9,426.5 934.6,435.4 935.3,442.4 936.0,429.2 936.8,442.3 937.5,448.5 938.2,461.2 938.9,446.9 939.6,435.1 940.3,437.5 941.0,436.6 941.7,431.8 942.4,458.3 943.1,428.5 943.9,455.2 944.6,434.5 945.3,460.8 946.0,444.1 946.7,434.3 947.4,447.2 948.1,435.1 948.8,443.4 949.5,443.6 950.2,450.9 950.9,440.1 951.7,432.3 952.4,435.8 953.1,430.8 953.8,452.5 954.5,429.8 955.2,439.9 955.9,430.6 956.6,447.4 957.3,430.8 958.0,450.3 958.8,437.5 959.5,441.3 960.2,429.8 960.9,446.9 961.6,435.9 962.3,450.9 963.0,439.4 963.7,433.2 964.4,445.5 965.1,438.6 965.9,425.1 966.6,450.8 967.3,437.9 968.0,476.7 968.7,438.4 969.4,433.0 970.1,445.2 970.8,449.2 971.5,424.6 972.2,431.7 973.0,441.7 973.7,435.7 974.4,431.0 975.1,455.6 975.8,438.3 976.5,450.0 977.2,438.7 977.9,439.6 978.6,436.2 979.3,469.7 980.1,480.6 980.8,432.4 981.5,432.4 982.2,434.6 982.9,433.9 983.6,436.8 984.3,445.2 985.0,429.9 985.7,426.5 986.4,428.9 987.2,436.3 987.9,428.0 988.6,445.7 989.3,462.4 990.0,454.4 990.7,438.9 991.4,441.3 992.1,434.1 992.8,448.5 993.5,482.7 994.3,445.4 995.0,460.6 995.7,449.6 996.4,427.4 997.1,433.8 997.8,435.5 998.5,434.0 999.2,478.2 999.9,432.1 1000.6,480.6 1001.4,429.8 1002.1,427.1 1002.8,431.3 1003.5,445.7 1004.2,446.8 1004.9,456.2 1005.6,440.7 1006.3,434.2 1007.0,431.3 1007.7,440.4 1008.4,444.1 1009.2,450.0 1009.9,427.2 1010.6,451.0 1011.3,436.5 1012.0,428.9 1012.7,437.3 1013.4,441.0 1014.1,451.1 1014.8,472.3 1015.5,429.9 1016.3,434.4 1017.0,440.1 1017.7,440.7 1018.4,431.6 1019.1,438.8 1019.8,442.6 1020.5,436.3 1021.2,431.7 1021.9,450.3 1022.6,469.2 1023.4,431.7 1024.1,435.9 1024.8,465.1 1025.5,442.0 1026.2,427.8 1026.9,454.8 1027.6,438.2 1028.3,437.3 1029.0,444.8 1029.7,453.7 1030.5,436.1 1031.2,436.3 1031.9,435.0 1032.6,431.4 1033.3,428.8 1034.0,429.2 1034.7,452.8 1035.4,436.1 1036.1,442.3 1036.8,491.7 1037.6,448.9 1038.3,439.2 1039.0,432.0 1039.7,427.0 1040.4,435.5 1041.1,427.5 1041.8,428.1 1042.5,445.7 1043.2,432.2 1043.9,458.6 1044.7,433.2 1045.4,435.8 1046.1,437.1 1046.8,433.0 1047.5,430.4 1048.2,430.1 1048.9,436.7"/><path class="s" stroke="#e020e0" d="M716.0,446.3 716.7,440.2 717.4,427.6 718.1,425.9 718.8,425.4 719.5,417.2 720.2,426.7 721.0,430.6 721.7,439.2 722.4,447.2 723.1,418.0 723.8,419.9 724.5,423.4 725.2,423.3 725.9,427.2 726.6,417.8 727.3,428.3 728.0,425.1 728.8,427.0 729.5,428.8 730.2,421.8 730.9,432.9 731.6,427.6 732.3,418.2 733.0,419.9 733.7,424.7 734.4,418.7 735.1,415.2 735.9,430.1 736.6,436.3 737.3,429.9 738.0,419.3 738.7,420.6 739.4,429.7 740.1,428.3 740.8,442.4 741.5,428.5 742.2,423.3 743.0,423.8 743.7,420.8 744.4,421.7 745.1,428.9 745.8,420.7 746.5,431.3 747.2,419.9 747.9,423.9 748.6,424.3 749.3,419.5 750.1,431.0 750.8,428.5 751.5,421.2 752.2,419.9 752.9,420.6 753.6,419.8 754.3,425.5 755.0,422.8 755.7,422.6 756.4,421.2 757.2,417.3 757.9,415.5 758.6,422.8 759.3,419.7 760.0,419.9 760.7,426.7 761.4,427.6 762.1,423.6 762.8,415.3 763.5,421.6 764.3,424.9 765.0,430.8 765.7,424.1 766.4,419.9 767.1,417.6 767.8,432.9 768.5,427.9 769.2,421.6 769.9,418.8 770.6,435.7 771.4,427.0 772.1,423.2 772.8,419.8 773.5,423.2 774.2,421.4 774.9,423.0 775.6,418.0 776.3,420.7 777.0,430.5 777.7,428.2 778.5,423.7 779.2,427.2 779.9,424.0 780.6,416.9 781.3,423.9 782.0,432.3 782.7,436.5 783.4,429.7 784.1,426.1 784.8,425.1 785.5,419.7 786.3,433.6 787.0,430.2 787.7,418.5 788.4,419.1 789.1,419.4 789.8,417.1 790.5,428.0 791.2,424.3 791.9,411.2 792.6,416.9 793.4,427.5 794.1,419.8 794.8,416.3 795.5,428.6 796.2,420.8 796.9,423.4 797.6,426.7 798.3,429.6 799.0,425.9 799.7,441.0 800.5,430.7 801.2,420.7 801.9,429.0 802.6,429.6 803.3,419.5 804.0,424.8 804.7,420.3 805.4,424.0 806.1,425.2 806.8,425.1 807.6,424.9 808.3,422.6 809.0,417.3 809.7,420.0 810.4,419.4 811.1,420.2 811.8,426.9 812.5,434.9 813.2,424.1 813.9,431.7 814.7,420.4 815.4,426.7 816.1,422.0 816.8,434.4 817.5,426.7 818.2,426.4 818.9,422.7 819.6,416.8 820.3,415.7 821.0,421.5 821.8,422.6 822.5,426.4 823.2,424.6 823.9,418.3 824.6,431.4 825.3,423.1 826.0,419.6 826.7,424.3 827.4,423.0 828.1,420.0 828.9,417.3 829.6,426.3 830.3,421.2 831.0,423.4 831.7,424.3 832.4,418.1 833.1,424.3 833.8,422.6 834.5,420.1 835.2,418.1 835.9,412.5 836.7,426.2 837.4,424.9 838.1,428.0 838.8,430.2 839.5,421.1 840.2,421.3 840.9,428.7 841.6,423.2 842.3,425.1 843.0,420.6 843.8,431.7 844.5,425.4 845.2,429.0 845.9,424.6 846.6,422.3 847.3,421.1 848.0,447.3 848.7,434.6 849.4,419.4 850.1,420.8 850.9,427.7 851.6,414.2 852.3,421.7 853.0,419.8 853.7,417.5 854.4,418.8 855.1,419.7 855.8,421.7 856.5,426.3 857.2,425.9 858.0,429.8 858.7,420.3 859.4,424.3 860.1,419.0 860.8,424.4 861.5,422.8 862.2,420.8 862.9,424.8 863.6,427.1 864.3,421.5 865.1,424.8 865.8,417.8 866.5,422.7 867.2,418.7 867.9,427.1 868.6,423.0 869.3,422.0 870.0,418.1 870.7,426.1 871.4,423.1 872.2,424.6 872.9,428.8 873.6,420.7 874.3,428.1 875.0,428.4 875.7,421.9 876.4,390.7 877.1,359.6 877.8,328.4 878.5,297.3 879.3,266.1 880.0,234.9 880.7,203.8 880.8,196.6 881.4,211.8 882.1,231.6 882.8,251.3 883.5,271.1 884.2,290.9 884.9,310.7 885.6,330.4 886.4,350.2 887.1,370.0 887.8,389.8 888.5,409.5 889.2,429.3 889.9,423.4 890.6,430.3 891.3,419.6 892.0,432.2 892.7,417.8 893.4,433.0 894.2,421.1 894.9,428.6 895.6,430.2 896.3,419.5 897.0,418.0 897.7,418.1 898.4,421.5 899.1,420.9 899.8,427.6 900.5,437.4 901.3,424.8 902.0,429.1 902.7,420.9 903.4,420.2 904.1,416.6 904.8,432.7 905.5,416.5 906.2,418.9 906.9,426.7 907.6,428.9 908.4,428.0 909.1,423.6 909.8,424.5 910.5,436.3 911.2,421.5 911.9,428.7 912.6,423.7 913.3,423.5 914.0,424.7 914.7,418.4 915.5,424.2 916.2,437.4 916.9,428.3 917.6,412.6 918.3,417.9 919.0,431.8 919.7,419.9 920.4,433.1 921.1,420.5 921.8,415.2 922.6,418.4 923.3,416.8 924.0,425.5 924.7,415.6 925.4,424.6 926.1,425.3 926.8,433.1 927.5,420.2 928.2,422.0 928.9,429.4 929.7,424.4 930.4,419.0 931.1,424.0 931.8,422.0 932.5,417.9 933.2,416.6 933.9,424.7 934.6,420.8 935.3,436.5 936.0,416.5 936.8,426.3 937.5,433.0 938.2,420.8 938.9,419.9 939.6,424.7 940.3,428.1 941.0,422.8 941.7,421.8 942.4,419.8 943.1,422.4 943.9,421.3 944.6,430.2 945.3,422.5 946.0,419.3 946.7,424.1 947.4,423.7 948.1,420.7 948.8,417.1 949.5,421.9 950.2,419.7 950.9,444.1 951.7,431.8 952.4,430.4 953.1,420.2 953.8,425.0 954.5,422.8 955.2,421.1 955.9,419.3 956.6,423.3 957.3,422.2 958.0,428.6 958.8,421.1 959.5,423.7 960.2,422.5 960.9,418.5 961.6,424.2 962.3,417.7 963.0,432.6 963.7,416.9 964.4,421.0 965.1,422.6 965.9,424.0 966.6,425.3 967.3,423.9 968.0,417.5 968.7,416.3 969.4,446.9 970.1,424.7 970.8,424.3 971.5,417.1 972.2,421.4 973.0,417.9 973.7,422.4 974.4,419.3 975.1,428.4 975.8,426.0 976.5,420.7 977.2,428.5 977.9,419.0 978.6,424.4 979.3,442.0 980.1,425.6 980.8,432.9 981.5,420.6 982.2,423.6 982.9,415.2 983.6,420.1 984.3,419.6 985.0,421.7 985.7,419.5 986.4,419.1 987.2,420.8 987.9,423.2 988.6,420.4 989.3,420.5 990.0,422.9 990.7,422.1 991.4,432.0 992.1,423.8 992.8,420.6 993.5,422.3 994.3,447.2 995.0,426.0 995.7,415.9 996.4,421.4 997.1,425.5 997.8,417.9 998.5,431.1 999.2,427.4 999.9,423.6 1000.6,431.5 1001.4,424.0 1002.1,422.6 1002.8,429.5 1003.5,423.7 1004.2,421.7 1004.9,422.8 1005.6,421.3 1006.3,420.3 1007.0,420.9 1007.7,417.5 1008.4,421.3 1009.2,423.0 1009.9,419.7 1010.6,420.7 1011.3,427.1 1012.0,417.0 1012.7,432.6 1013.4,428.2 1014.1,419.2 1014.8,420.0 1015.5,420.6 1016.3,419.4 1017.0,444.8 1017.7,425.9 1018.4,437.5 1019.1,418.7 1019.8,420.6 1020.5,419.2 1021.2,418.2 1021.9,427.1 1022.6,426.5 1023.4,423.3 1024.1,411.8 1024.8,436.5 1025.5,417.8 1026.2,421.3 1026.9,425.1 1027.6,424.0 1028.3,420.6 1029.0,423.8 1029.7,423.1 1030.5,422.8 1031.2,421.5 1031.9,419.4 1032.6,426.9 1033.3,421.0 1034.0,438.5 1034.7,419.1 1035.4,423.1 1036.1,421.1 1036.8,430.1 1037.6,419.1 1038.3,433.6 1039.0,421.4 1039.7,429.1 1040.4,421.5 1041.1,417.8 1041.8,423.5 1042.5,427.5 1043.2,424.7 1043.9,423.3 1044.7,414.6 1045.4,422.9 1046.1,425.8 1046.8,425.1 1047.5,420.7 1048.2,421.3 1048.9,419.4"/><path class="s" stroke="#ffff30" d="M716.0,440.3 716.7,434.2 717.4,437.5 718.1,434.9 718.8,428.8 719.5,466.5 720.2,440.6 721.0,434.5 721.7,441.9 722.4,473.7 723.1,426.6 723.8,433.6 724.5,453.3 725.2,464.8 725.9,494.1 726.6,433.3 727.3,432.4 728.0,440.2 728.8,456.0 729.5,464.5 730.2,448.3 730.9,448.1 731.6,443.1 732.3,433.2 733.0,447.9 733.7,459.9 734.4,436.4 735.1,494.1 735.9,449.8 736.6,430.4 737.3,447.4 738.0,445.5 738.7,431.7 739.4,448.4 740.1,430.1 740.8,431.9 741.5,429.6 742.2,447.2 743.0,427.4 743.7,444.4 744.4,438.5 745.1,457.0 745.8,481.8 746.5,436.8 747.2,466.1 747.9,446.6 748.6,437.9 749.3,433.6 750.1,431.6 750.8,430.3 751.5,440.6 752.2,446.7 752.9,466.8 753.6,467.2 754.3,430.6 755.0,454.9 755.7,444.8 756.4,431.6 757.2,449.3 757.9,434.6 758.6,440.4 759.3,430.0 760.0,435.9 760.7,447.9 761.4,438.1 762.1,439.9 762.8,437.0 763.5,426.8 764.3,446.7 765.0,434.3 765.7,494.1 766.4,482.1 767.1,472.2 767.8,432.8 768.5,438.6 769.2,442.1 769.9,440.6 770.6,457.6 771.4,471.7 772.1,457.2 772.8,446.5 773.5,438.9 774.2,457.7 774.9,432.0 775.6,434.0 776.3,430.6 777.0,444.2 777.7,468.7 778.5,430.2 779.2,460.9 779.9,440.3 780.6,443.3 781.3,450.6 782.0,433.7 782.7,439.5 783.4,494.1 784.1,446.3 784.8,453.5 785.5,452.6 786.3,436.4 787.0,443.8 787.7,457.6 788.4,438.2 789.1,436.8 789.8,457.0 790.5,431.9 791.2,428.1 791.9,443.9 792.6,454.5 793.4,471.9 794.1,441.4 794.8,492.8 795.5,440.8 796.2,430.0 796.9,448.3 797.6,449.9 798.3,429.3 799.0,440.7 799.7,451.2 800.5,440.0 801.2,433.8 801.9,450.1 802.6,450.5 803.3,431.9 804.0,442.7 804.7,464.5 805.4,435.1 806.1,439.5 806.8,430.9 807.6,434.0 808.3,434.6 809.0,432.8 809.7,446.4 810.4,438.4 811.1,456.9 811.8,435.7 812.5,430.1 813.2,436.1 813.9,449.5 814.7,441.9 815.4,424.5 816.1,435.6 816.8,424.9 817.5,439.6 818.2,453.4 818.9,466.8 819.6,433.7 820.3,453.5 821.0,434.9 821.8,432.3 822.5,476.7 823.2,438.4 823.9,435.8 824.6,432.2 825.3,461.3 826.0,433.5 826.7,470.6 827.4,431.4 828.1,494.1 828.9,430.9 829.6,433.3 830.3,437.8 831.0,435.9 831.7,445.7 832.4,437.0 833.1,474.2 833.8,445.3 834.5,471.3 835.2,460.3 835.9,448.0 836.7,433.0 837.4,436.6 838.1,431.1 838.8,438.5 839.5,444.0 840.2,452.2 840.9,428.0 841.6,434.7 842.3,440.1 843.0,445.1 843.8,435.6 844.5,435.0 845.2,444.0 845.9,444.7 846.6,429.1 847.3,424.8 848.0,444.7 848.7,450.8 849.4,469.9 850.1,438.2 850.9,438.4 851.6,439.8 852.3,430.6 853.0,477.9 853.7,442.6 854.4,468.9 855.1,446.6 855.8,436.5 856.5,438.7 857.2,448.4 858.0,447.3 858.7,465.7 859.4,428.6 860.1,452.0 860.8,432.5 861.5,433.4 862.2,434.6 862.9,441.1 863.6,432.1 864.3,436.7 865.1,433.6 865.8,494.1 866.5,479.1 867.2,432.4 867.9,455.4 868.6,432.5 869.3,459.2 870.0,460.8 870.7,450.8 871.4,464.3 872.2,465.8 872.9,437.1 873.6,443.0 874.3,450.7 875.0,446.5 875.7,423.1 876.4,392.5 877.1,362.0 877.8,331.5 878.5,300.9 879.3,270.4 880.0,239.8 880.7,209.3 880.9,201.4 881.4,215.8 882.1,235.1 882.8,254.5 883.5,273.9 884.2,293.3 884.9,312.6 885.6,332.0 886.4,351.4 887.1,370.8 887.8,390.2 888.5,409.5 889.2,428.9 889.9,433.2 890.6,436.0 891.3,460.4 892.0,435.5 892.7,443.5 893.4,427.8 894.2,438.2 894.9,436.9 895.6,431.9 896.3,435.9 897.0,433.1 897.7,440.7 898.4,434.4 899.1,433.4 899.8,470.2 900.5,435.6 901.3,460.1 902.0,440.4 902.7,453.0 903.4,478.6 904.1,447.1 904.8,431.0 905.5,427.6 906.2,474.7 906.9,436.4 907.6,454.3 908.4,435.3 909.1,458.1 909.8,432.3 910.5,439.1 911.2,439.1 911.9,440.9 912.6,436.7 913.3,458.8 914.0,440.6 914.7,429.5 915.5,443.1 916.2,430.2 916.9,436.9 917.6,439.4 918.3,441.9 919.0,436.3 919.7,446.7 920.4,433.9 921.1,432.7 921.8,448.6 922.6,454.6 923.3,434.6 924.0,449.9 924.7,457.9 925.4,433.8 926.1,467.2 926.8,429.1 927.5,434.1 928.2,432.3 928.9,453.4 929.7,441.5 930.4,435.1 931.1,434.4 931.8,448.5 932.5,437.2 933.2,427.6 933.9,442.0 934.6,437.6 935.3,428.8 936.0,434.5 936.8,436.2 937.5,440.9 938.2,434.1 938.9,433.4 939.6,441.5 940.3,494.1 941.0,433.9 941.7,465.5 942.4,450.7 943.1,434.1 943.9,430.8 944.6,458.7 945.3,473.1 946.0,453.2 946.7,443.5 947.4,446.4 948.1,462.3 948.8,446.8 949.5,449.1 950.2,473.1 950.9,463.2 951.7,456.4 952.4,434.4 953.1,430.1 953.8,456.5 954.5,439.4 955.2,436.5 955.9,439.1 956.6,442.6 957.3,430.0 958.0,436.1 958.8,451.5 959.5,461.7 960.2,441.1 960.9,442.2 961.6,432.6 962.3,452.1 963.0,435.8 963.7,440.9 964.4,435.9 965.1,437.7 965.9,439.4 966.6,453.4 967.3,456.9 968.0,463.9 968.7,434.8 969.4,429.3 970.1,457.6 970.8,456.9 971.5,447.8 972.2,468.0 973.0,432.4 973.7,433.4 974.4,440.8 975.1,437.0 975.8,428.5 976.5,435.1 977.2,432.7 977.9,436.5 978.6,430.9 979.3,423.3 980.1,443.6 980.8,431.7 981.5,450.8 982.2,442.7 982.9,430.0 983.6,439.2 984.3,434.5 985.0,448.6 985.7,433.5 986.4,435.1 987.2,437.0 987.9,430.7 988.6,462.8 989.3,443.0 990.0,491.9 990.7,454.2 991.4,458.1 992.1,433.6 992.8,438.5 993.5,469.4 994.3,429.6 995.0,494.1 995.7,468.5 996.4,448.1 997.1,431.9 997.8,427.3 998.5,433.8 999.2,422.8 999.9,469.7 1000.6,444.1 1001.4,435.6 1002.1,434.2 1002.8,459.1 1003.5,451.1 1004.2,441.9 1004.9,437.0 1005.6,456.8 1006.3,442.1 1007.0,447.9 1007.7,443.8 1008.4,474.0 1009.2,435.6 1009.9,452.4 1010.6,449.6 1011.3,470.3 1012.0,429.6 1012.7,494.1 1013.4,435.2 1014.1,436.2 1014.8,437.0 1015.5,449.8 1016.3,429.5 1017.0,484.1 1017.7,443.3 1018.4,439.9 1019.1,494.1 1019.8,443.6 1020.5,448.1 1021.2,428.9 1021.9,431.7 1022.6,445.6 1023.4,450.0 1024.1,431.9 1024.8,436.5 1025.5,455.7 1026.2,469.2 1026.9,447.2 1027.6,457.7 1028.3,450.9 1029.0,439.4 1029.7,427.5 1030.5,458.3 1031.2,457.6 1031.9,448.0 1032.6,446.3 1033.3,429.8 1034.0,433.3 1034.7,433.8 1035.4,430.6 1036.1,494.1 1036.8,447.7 1037.6,453.9 1038.3,459.2 1039.0,474.2 1039.7,441.9 1040.4,446.6 1041.1,432.0 1041.8,432.8 1042.5,494.1 1043.2,436.8 1043.9,473.0 1044.7,479.5 1045.4,447.4 1046.1,424.8 1046.8,446.1 1047.5,451.2 1048.2,433.2 1048.9,439.2"/><path class="s" stroke="#808018" d="M716.0,447.3 716.7,440.1 717.4,423.6 718.1,433.0 718.8,431.3 719.5,446.2 720.2,446.3 721.0,431.5 721.7,437.9 722.4,430.3 723.1,424.6 723.8,452.7 724.5,443.3 725.2,450.9 725.9,439.5 726.6,436.6 727.3,427.8 728.0,453.0 728.8,435.4 729.5,431.0 730.2,451.4 730.9,447.7 731.6,434.8 732.3,448.6 733.0,459.8 733.7,429.2 734.4,428.1 735.1,444.9 735.9,436.4 736.6,435.4 737.3,430.7 738.0,426.9 738.7,458.4 739.4,435.3 740.1,438.3 740.8,454.2 741.5,438.1 742.2,439.9 743.0,434.3 743.7,440.6 744.4,448.3 745.1,437.4 745.8,469.6 746.5,433.9 747.2,436.1 747.9,429.9 748.6,438.2 749.3,438.3 750.1,428.6 750.8,436.0 751.5,434.1 752.2,436.2 752.9,448.2 753.6,455.1 754.3,428.2 755.0,432.6 755.7,437.4 756.4,440.7 757.2,430.8 757.9,439.9 758.6,439.9 759.3,441.6 760.0,426.3 760.7,445.1 761.4,470.7 762.1,432.1 762.8,445.3 763.5,432.0 764.3,460.8 765.0,435.7 765.7,436.4 766.4,443.4 767.1,438.7 767.8,442.7 768.5,446.5 769.2,436.0 769.9,453.4 770.6,440.6 771.4,429.5 772.1,434.3 772.8,434.4 773.5,433.3 774.2,494.1 774.9,426.4 775.6,441.7 776.3,444.9 777.0,442.6 777.7,435.1 778.5,433.3 779.2,451.5 779.9,434.6 780.6,430.5 781.3,441.9 782.0,449.4 782.7,443.2 783.4,458.1 784.1,431.5 784.8,440.1 785.5,453.0 786.3,432.9 787.0,441.1 787.7,441.9 788.4,449.4 789.1,423.5 789.8,458.7 790.5,442.6 791.2,431.0 791.9,448.2 792.6,435.7 793.4,425.9 794.1,429.9 794.8,426.9 795.5,437.0 796.2,437.4 796.9,427.4 797.6,432.0 798.3,433.3 799.0,436.8 799.7,427.9 800.5,436.0 801.2,445.3 801.9,465.2 802.6,448.1 803.3,439.8 804.0,428.6 804.7,458.9 805.4,436.9 806.1,441.2 806.8,441.9 807.6,429.7 808.3,431.9 809.0,438.6 809.7,436.2 810.4,452.2 811.1,428.7 811.8,458.3 812.5,431.7 813.2,427.8 813.9,443.3 814.7,454.1 815.4,430.3 816.1,435.0 816.8,440.0 817.5,447.3 818.2,440.7 818.9,437.3 819.6,434.5 820.3,442.7 821.0,429.1 821.8,434.4 822.5,431.9 823.2,428.4 823.9,441.7 824.6,438.0 825.3,438.5 826.0,438.6 826.7,441.3 827.4,458.0 828.1,438.8 828.9,435.2 829.6,428.8 830.3,431.2 831.0,433.7 831.7,436.5 832.4,443.9 833.1,442.1 833.8,433.9 834.5,433.8 835.2,428.8 835.9,444.9 836.7,456.0 837.4,428.8 838.1,436.7 838.8,444.7 839.5,431.9 840.2,433.4 840.9,427.8 841.6,432.1 842.3,467.9 843.0,451.1 843.8,428.6 844.5,449.4 845.2,444.7 845.9,429.4 846.6,429.2 847.3,429.0 848.0,438.0 848.7,434.4 849.4,440.2 850.1,430.1 850.9,428.6 851.6,451.3 852.3,458.4 853.0,432.2 853.7,450.2 854.4,442.6 855.1,431.4 855.8,435.3 856.5,434.0 857.2,436.9 858.0,427.3 858.7,431.0 859.4,437.8 860.1,446.5 860.8,451.8 861.5,427.4 862.2,433.2 862.9,435.0 863.6,438.9 864.3,429.5 865.1,430.9 865.8,453.9 866.5,432.4 867.2,426.0 867.9,436.5 868.6,427.7 869.3,437.8 870.0,433.6 870.7,440.1 871.4,448.8 872.2,434.6 872.9,439.3 873.6,478.4 874.3,441.3 875.0,450.4 875.7,423.8 876.4,393.2 877.1,362.5 877.8,331.8 878.5,301.1 879.3,270.4 880.0,239.7 880.7,209.0 880.9,200.2 881.4,214.1 882.1,233.5 882.8,253.0 883.5,272.5 884.2,292.0 884.9,311.5 885.6,330.9 886.4,350.4 887.1,369.9 887.8,389.4 888.5,408.8 889.2,428.3 889.9,432.7 890.6,429.2 891.3,427.6 892.0,446.2 892.7,447.8 893.4,448.7 894.2,434.7 894.9,429.0 895.6,437.5 896.3,423.5 897.0,432.7 897.7,459.3 898.4,435.0 899.1,432.3 899.8,431.7 900.5,432.4 901.3,437.7 902.0,437.5 902.7,440.7 903.4,441.8 904.1,437.2 904.8,479.6 905.5,425.4 906.2,432.9 906.9,432.2 907.6,442.8 908.4,439.8 909.1,469.7 909.8,428.0 910.5,440.1 911.2,434.7 911.9,446.4 912.6,437.1 913.3,427.1 914.0,446.2 914.7,426.5 915.5,448.9 916.2,446.4 916.9,434.8 917.6,444.4 918.3,437.2 919.0,438.3 919.7,437.0 920.4,433.1 921.1,432.1 921.8,432.0 922.6,467.0 923.3,430.8 924.0,464.3 924.7,436.8 925.4,443.9 926.1,440.3 926.8,470.5 927.5,467.0 928.2,432.5 928.9,432.0 929.7,430.7 930.4,445.4 931.1,465.2 931.8,468.6 932.5,443.0 933.2,429.8 933.9,454.3 934.6,433.1 935.3,431.8 936.0,436.6 936.8,448.8 937.5,438.0 938.2,425.6 938.9,431.2 939.6,439.4 940.3,430.2 941.0,449.0 941.7,427.6 942.4,445.2 943.1,434.7 943.9,436.4 944.6,463.9 945.3,438.8 946.0,429.8 946.7,444.7 947.4,443.7 948.1,441.3 948.8,425.2 949.5,440.9 950.2,443.4 950.9,454.2 951.7,432.0 952.4,433.9 953.1,435.1 953.8,443.8 954.5,431.6 955.2,429.3 955.9,432.0 956.6,454.6 957.3,431.6 958.0,429.4 958.8,437.2 959.5,428.5 960.2,441.0 960.9,453.1 961.6,434.9 962.3,450.4 963.0,431.3 963.7,428.5 964.4,427.2 965.1,447.1 965.9,443.3 966.6,427.2 967.3,426.3 968.0,444.5 968.7,440.5 969.4,438.2 970.1,435.6 970.8,434.9 971.5,438.8 972.2,437.9 973.0,428.1 973.7,443.3 974.4,436.5 975.1,433.0 975.8,426.8 976.5,452.4 977.2,458.0 977.9,433.0 978.6,432.4 979.3,454.8 980.1,479.3 980.8,435.8 981.5,436.9 982.2,435.9 982.9,429.0 983.6,430.5 984.3,448.1 985.0,450.0 985.7,430.2 986.4,476.0 987.2,428.5 987.9,446.3 988.6,430.9 989.3,431.1 990.0,436.4 990.7,429.3 991.4,442.7 992.1,438.3 992.8,459.4 993.5,436.9 994.3,463.8 995.0,436.2 995.7,438.6 996.4,437.2 997.1,448.4 997.8,438.2 998.5,429.6 999.2,449.4 999.9,446.9 1000.6,454.8 1001.4,429.4 1002.1,431.6 1002.8,437.2 1003.5,440.2 1004.2,428.2 1004.9,432.2 1005.6,437.6 1006.3,439.2 1007.0,435.3 1007.7,435.2 1008.4,426.8 1009.2,431.1 1009.9,436.1 1010.6,452.9 1011.3,432.9 1012.0,440.5 1012.7,440.6 1013.4,445.0 1014.1,448.4 1014.8,434.8 1015.5,427.4 1016.3,430.1 1017.0,433.7 1017.7,442.0 1018.4,450.7 1019.1,430.8 1019.8,434.3 1020.5,445.5 1021.2,430.1 1021.9,431.0 1022.6,453.6 1023.4,431.5 1024.1,437.3 1024.8,433.4 1025.5,444.0 1026.2,433.7 1026.9,437.8 1027.6,429.9 1028.3,436.6 1029.0,432.9 1029.7,445.9 1030.5,433.0 1031.2,436.9 1031.9,426.4 1032.6,427.7 1033.3,430.6 1034.0,460.5 1034.7,454.2 1035.4,433.4 1036.1,436.4 1036.8,450.0 1037.6,448.0 1038.3,427.3 1039.0,427.2 1039.7,451.4 1040.4,428.0 1041.1,457.1 1041.8,458.6 1042.5,433.0 1043.2,456.1 1043.9,494.1 1044.7,441.8 1045.4,428.1 1046.1,452.5 1046.8,435.6 1047.5,429.6 1048.2,436.5 1048.9,443.2"/></g>
<text class="lb" text-anchor="middle" textLength="132.3" lengthAdjust="spacing" transform="translate(616.6 303.5) rotate(-90)">Optical Power [dB]</text>
<text x="877.6" y="532.0" class="lb" text-anchor="middle" textLength="122.8" lengthAdjust="spacing">Wavelength [nm]</text>
<rect x="979.7" y="174.1" width="113" height="165.3" fill="#fff" stroke="#959595" stroke-width="1"/><path d="M1092.8 174.1V339.5H979.7" fill="none" stroke="#8a8a8a" stroke-width="1.5"/>
<path d="M985 187.40H1022.6" stroke="#000000" stroke-width="1.3" fill="none"/>
<text x="1026.6" y="193.00" class="lg" text-anchor="start" textLength="61.2" lengthAdjust="spacing">18 degC</text>
<path d="M985 207.25H1022.6" stroke="#e8181c" stroke-width="1.3" fill="none"/>
<text x="1026.6" y="212.85" class="lg" text-anchor="start" textLength="61.2" lengthAdjust="spacing">20 degC</text>
<path d="M985 227.10H1022.6" stroke="#2fe02f" stroke-width="1.3" fill="none"/>
<text x="1026.6" y="232.70" class="lg" text-anchor="start" textLength="61.2" lengthAdjust="spacing">22 degC</text>
<path d="M985 246.95H1022.6" stroke="#1c1ca8" stroke-width="1.3" fill="none"/>
<text x="1026.6" y="252.55" class="lg" text-anchor="start" textLength="61.2" lengthAdjust="spacing">24 degC</text>
<path d="M985 266.80H1022.6" stroke="#2ee6e6" stroke-width="1.3" fill="none"/>
<text x="1026.6" y="272.40" class="lg" text-anchor="start" textLength="61.2" lengthAdjust="spacing">26 degC</text>
<path d="M985 286.65H1022.6" stroke="#e020e0" stroke-width="1.3" fill="none"/>
<text x="1026.6" y="292.25" class="lg" text-anchor="start" textLength="61.2" lengthAdjust="spacing">28 degC</text>
<path d="M985 306.50H1022.6" stroke="#ffff30" stroke-width="1.3" fill="none"/>
<text x="1026.6" y="312.10" class="lg" text-anchor="start" textLength="61.2" lengthAdjust="spacing">30 degC</text>
<path d="M985 326.35H1022.6" stroke="#808018" stroke-width="1.3" fill="none"/>
<text x="1026.6" y="331.95" class="lg" text-anchor="start" textLength="61.2" lengthAdjust="spacing">32 degC</text>
</svg></body></html>
